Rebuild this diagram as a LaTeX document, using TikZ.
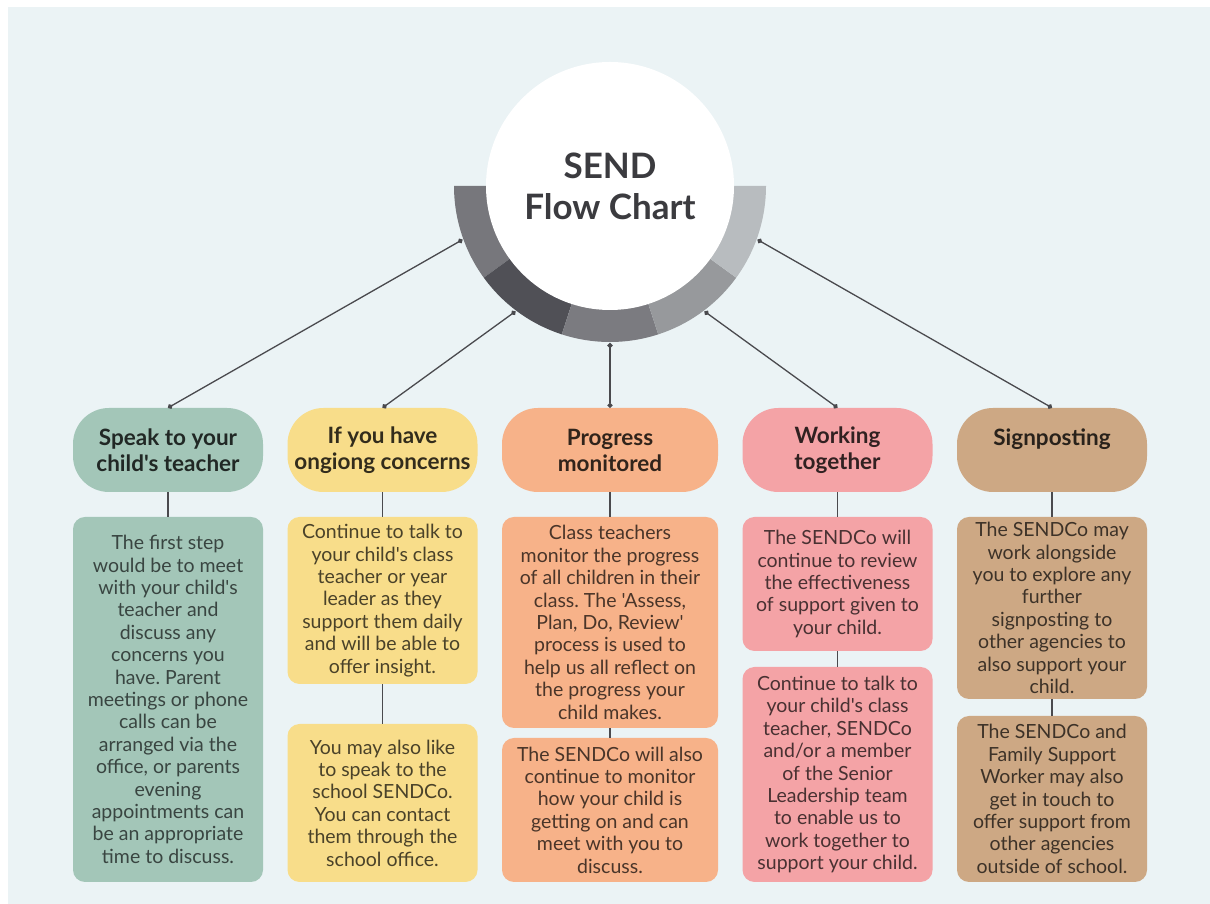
\documentclass[tikz,border=0pt]{standalone}
\usepackage{fontspec}
\setmainfont{Lato}[Ligatures=TeXOff]
\frenchspacing
\usetikzlibrary{arrows.meta}
\definecolor{bgblue}{HTML}{EBF3F5}
\definecolor{sage}{HTML}{A3C6B8}
\definecolor{butter}{HTML}{F8DD8A}
\definecolor{peach}{HTML}{F7B289}
\definecolor{rose}{HTML}{F4A3A6}
\definecolor{sand}{HTML}{CDA884}
\definecolor{linkgray}{HTML}{4A4A4E}
\definecolor{hubtext}{HTML}{3B3B3F}
\definecolor{ringA}{HTML}{77777C}
\definecolor{ringB}{HTML}{505056}
\definecolor{ringC}{HTML}{7B7B80}
\definecolor{ringD}{HTML}{97999C}
\definecolor{ringE}{HTML}{B8BCBF}
\begin{document}
\begin{tikzpicture}[x=1pt, y=1pt,
    head/.style={rounded corners=36pt, minimum width=190pt, minimum height=84pt, inner sep=0pt,
        align=center, font=\bfseries\fontsize{22.5}{26}\selectfont},
    body/.style={rounded corners=12pt, minimum width=190pt, inner sep=0pt,
        align=center, font=\fontsize{19.5}{22.4}\selectfont},
    link/.style={draw=linkgray, line width=1.3pt, {Circle[length=5pt]}-{Circle[length=5pt]}},
    stem/.style={draw=linkgray, line width=1.3pt}]
    % page and background
    \fill[white] (0,0) rectangle (1210,904);
    \fill[bgblue] (8,0) rectangle (1210,897);
    \useasboundingbox (0,0) rectangle (1210,904);

    % hub: half ring of 5 grey segments, white circle on top
    \coordinate (ctr) at (610,718);
    \foreach \c [count=\i from 0] in {ringA,ringB,ringC,ringD,ringE}
        \fill[\c] ([shift={(180+36*\i:156)}]ctr) arc[start angle=180+36*\i, delta angle=36, radius=156]
            -- ([shift={(216+36*\i:123)}]ctr) arc[start angle=216+36*\i, delta angle=-36, radius=123] -- cycle;
    \node[circle, fill=white, minimum size=248pt, inner sep=0pt, text=hubtext, align=center,
        font=\bfseries\fontsize{35}{41}\selectfont] (hub) at (ctr) {SEND\\Flow Chart};
    \foreach \a [count=\i] in {200,233,270,307,340} \coordinate (r\i) at ([shift={(\a:157)}]ctr);

    % headers
    \node[head, fill=sage, text=sage!20!black] (h1) at (168,454) {Speak to your\\child's teacher};
    \node[head, fill=butter, text=butter!20!black] (h2) at (382.5,454) {If you have\\ongiong concerns};
    \node[head, fill=peach, text=peach!20!black, minimum width=216pt] (h3) at (610,454) {Progress\\monitored};
    \node[head, fill=rose, text=rose!20!black] (h4) at (837.5,454) {Working\\together};
    \node[head, fill=sand, text=sand!20!black] (h5) at (1052,454) {Signposting\\~};

    % column 1
    \node[body, fill=sage, text=sage!35!black, minimum height=365pt] (b1) at (168,204.5)
        {The first step\\would be to meet\\with your child's\\teacher and\\discuss any\\concerns you\\have. Parent\\meetings or phone\\calls can be\\arranged via the\\office, or parents\\evening\\appointments can\\be an appropriate\\time to discuss.};
    % column 2
    \node[body, fill=butter, text=butter!30!black, minimum height=167pt] (b2a) at (382.5,303.5)
        {Continue to talk to\\your child's class\\teacher or year\\leader as they\\support them daily\\and will be able to\\offer insight.};
    \node[body, fill=butter, text=butter!30!black, minimum height=158pt] (b2b) at (382.5,101)
        {You may also like\\to speak to the\\school SENDCo.\\You can contact\\them through the\\school office.};
    % column 3
    \node[body, fill=peach, text=peach!30!black, minimum width=216pt, minimum height=211pt] (b3a) at (610,281.5)
        {Class teachers\\monitor the progress\\of all children in their\\class. The 'Assess,\\Plan, Do, Review'\\process is used to\\help us all reflect on\\the progress your\\child makes.};
    \node[body, fill=peach, text=peach!30!black, minimum width=216pt, minimum height=144pt] (b3b) at (610,94)
        {The SENDCo will also\\continue to monitor\\how your child is\\getting on and can\\meet with you to\\discuss.};
    % column 4
    \node[body, fill=rose, text=rose!30!black, minimum height=134pt] (b4a) at (837.5,320)
        {The SENDCo will\\continue to review\\the effectiveness\\of support given to\\your child.};
    \node[body, fill=rose, text=rose!30!black, minimum height=215pt] (b4b) at (837.5,129.5)
        {Continue to talk to\\your child's class\\teacher, SENDCo\\and/or a member\\of the Senior\\Leadership team\\to enable us to\\work together to\\support your child.};
    % column 5
    \node[body, fill=sand, text=sand!30!black, minimum height=182pt] (b5a) at (1052,296)
        {The SENDCo may\\work alongside\\you to explore any\\further\\signposting to\\other agencies to\\also support your\\child.};
    \node[body, fill=sand, text=sand!30!black, minimum height=166pt] (b5b) at (1052,105)
        {The SENDCo and\\Family Support\\Worker may also\\get in touch to\\offer support from\\other agencies\\outside of school.};

    % links: hub to headers, headers to boxes
    \foreach \i in {1,...,5} \draw[link] (r\i) -- (h\i.north);
    \draw[stem] (h1) -- (b1);
    \foreach \i in {2,...,5} {
        \draw[stem] (h\i) -- (b\i a);
        \draw[stem] (b\i a) -- (b\i b);
    }
\end{tikzpicture}
\end{document}
